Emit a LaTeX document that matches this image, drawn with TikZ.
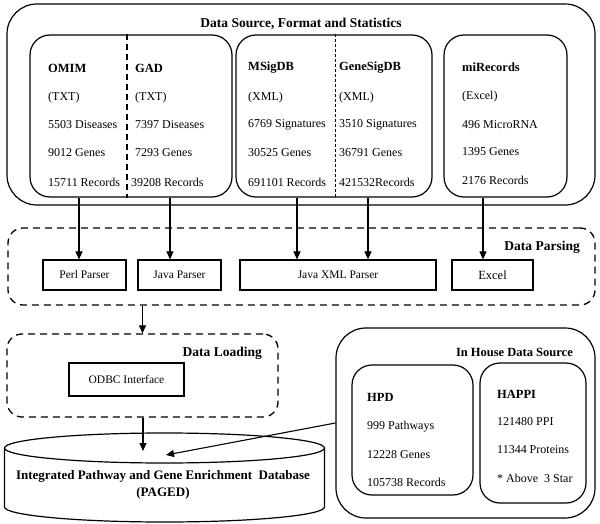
\documentclass[tikz,border=0pt]{standalone}
\usepackage{fontspec}
\setmainfont{Liberation Serif}
\usetikzlibrary{arrows.meta}
\tikzset{
  frame/.style={draw, line width=1.2pt, inner sep=0pt},
  dbox/.style={draw, line width=1.3pt, dash pattern=on 7pt off 5pt, inner sep=0pt, rounded corners=15pt},
  pbox/.style={draw, line width=1.2pt, inner sep=0pt, font=\fontsize{11.5}{13}\selectfont},
  lab/.style={anchor=west, inner sep=0pt, font=\fontsize{12}{13}\selectfont},
  head/.style={anchor=west, inner sep=0pt, font=\fontsize{12.5}{14}\selectfont\bfseries},
  title/.style={inner sep=0pt, font=\fontsize{13.5}{15}\selectfont\bfseries},
  arr/.style={-{Triangle[length=8pt,width=7pt]}, line width=1.1pt},
}
\begin{document}
\begin{tikzpicture}[x=1pt,y=-1pt]
\useasboundingbox (0,0) rectangle (600,524);
% ---- Data source
\node[frame, rounded corners=30pt, minimum width=588pt, minimum height=201pt] (src) at (301,104.5) {};
\node[title] (srct) at (301,24) {Data Source, Format and Statistics};
\node[frame, rounded corners=20pt, minimum width=202pt, minimum height=162pt] (b1) at (131,116) {};
\node[frame, rounded corners=20pt, minimum width=196pt, minimum height=162pt] (b2) at (334,116) {};
\node[frame, rounded corners=20pt, minimum width=123pt, minimum height=162pt] (b3) at (505.5,116) {};
\draw[line width=1.2pt, dash pattern=on 6pt off 4pt] (b1.north -| 127,0) -- (b1.south -| 127,0);
\draw[line width=0.6pt, dash pattern=on 3pt off 2pt] (b2.north -| 335,0) -- (b2.south -| 335,0);
% box1
\node[head] (omim) at (48,68) {OMIM};
\node[lab] (omim1) at (48,98) {(TXT)};
\node[lab] (omim2) at (48,125) {5503 Diseases};
\node[lab] (omim3) at (48,153) {9012 Genes};
\node[lab] (omim4) at (48,182) {15711 Records};
\node[head] (gad) at (135,68) {GAD};
\node[lab] (gad1) at (135,98) {(TXT)};
\node[lab] (gad2) at (135,125) {7397 Diseases};
\node[lab] (gad3) at (135,153) {7293 Genes};
\node[lab] (gad4) at (131,182) {39208 Records};
% box2
\node[head] (msig) at (248,68) {MSigDB};
\node[lab] (msig1) at (248,98) {(XML)};
\node[lab] (msig2) at (248,125) {6769 Signatures};
\node[lab] (msig3) at (248,153) {30525 Genes};
\node[lab] (msig4) at (248,182) {691101 Records};
\node[head] (gsig) at (339,68) {GeneSigDB};
\node[lab] (gsig1) at (339,98) {(XML)};
\node[lab] (gsig2) at (339,125) {3510 Signatures};
\node[lab] (gsig3) at (339,153) {36791 Genes};
\node[lab] (gsig4) at (339,182) {421532Records};
% box3
\node[head] (mir) at (462,67) {miRecords};
\node[lab] (mir1) at (462,97) {(Excel)};
\node[lab] (mir2) at (462,125) {496 MicroRNA};
\node[lab] (mir3) at (462,152) {1395 Genes};
\node[lab] (mir4) at (462,180) {2176 Records};
% ---- Data parsing
\node[dbox, minimum width=587pt, minimum height=77pt] (parse) at (301.5,266.5) {};
\node[title, anchor=east] (parset) at (580,247) {Data Parsing};
\node[pbox, minimum width=83pt, minimum height=30pt] (perl) at (84.5,275) {Perl Parser};
\node[pbox, minimum width=83pt, minimum height=30pt] (java) at (179.5,275) {Java Parser};
\node[pbox, minimum width=196pt, minimum height=30pt] (jxml) at (338,275) {Java XML Parser};
\node[pbox, minimum width=81pt, minimum height=30pt, font=\fontsize{12.5}{14}\selectfont] (excel) at (492.5,275) {Excel};
\draw[arr] ([xshift=-5.5pt]perl.north |- b1.south) -- ([xshift=-5.5pt]perl.north);
\draw[arr] ([xshift=-9.5pt]java.north |- b1.south) -- ([xshift=-9.5pt]java.north);
\draw[arr] ([xshift=-41pt]jxml.north |- b2.south) -- ([xshift=-41pt]jxml.north);
\draw[arr] ([xshift=30pt]jxml.north |- b2.south) -- ([xshift=30pt]jxml.north);
\draw[arr] ([xshift=-9.5pt]excel.north |- b3.south) -- ([xshift=-9.5pt]excel.north);
% ---- Data loading
\node[dbox, minimum width=271pt, minimum height=83pt] (load) at (142.5,375.5) {};
\node[title, anchor=east] (loadt) at (262,353) {Data Loading};
\node[pbox, minimum width=115pt, minimum height=33pt] (odbc) at (126.5,379.5) {ODBC Interface};
\draw[arr] (load.north |- parse.south) -- (load.north);
% ---- Database cylinder
\draw[line width=1.2pt] (4.5,448) -- (4.5,507) arc[start angle=180, end angle=360, x radius=160pt, y radius=15pt] -- (324.5,448);
\draw[line width=1.2pt] (164.5,448) ellipse[x radius=160pt, y radius=15pt];
\node[title, align=center, font=\fontsize{13}{17}\selectfont\bfseries] (db) at (163,485) {Integrated Pathway and Gene Enrichment\ \ Database\\(PAGED)};
\coordinate (dbin1) at (143,451);
\coordinate (dbin2) at (166,455);
\draw[arr] (load.south -| dbin1) -- (dbin1);
% ---- In house
\node[frame, rounded corners=30pt, minimum width=259pt, minimum height=190pt] (house) at (465.5,423) {};
\node[title, anchor=east, font=\fontsize{12.5}{14}\selectfont\bfseries] (houset) at (573,352) {In House Data Source};
\node[frame, rounded corners=20pt, minimum width=121pt, minimum height=130pt] (hpd) at (412.5,430) {};
\node[frame, rounded corners=20pt, minimum width=106pt, minimum height=140pt] (happi) at (533,433) {};
\node[head] (hpdt) at (367,397) {HPD};
\node[lab] (hpd1) at (367,427) {999 Pathways};
\node[lab] (hpd2) at (367,455) {12228 Genes};
\node[lab] (hpd3) at (367,482) {105738 Records};
\node[head] (happit) at (497,394) {HAPPI};
\node[lab] (happi1) at (497,422) {121480 PPI};
\node[lab] (happi2) at (497,450) {11344 Proteins};
\node[lab] (happi3) at (497,478) {* Above\ \ 3 Star};
\draw[arr] (house.west) -- (dbin2);
\end{tikzpicture}
\end{document}
